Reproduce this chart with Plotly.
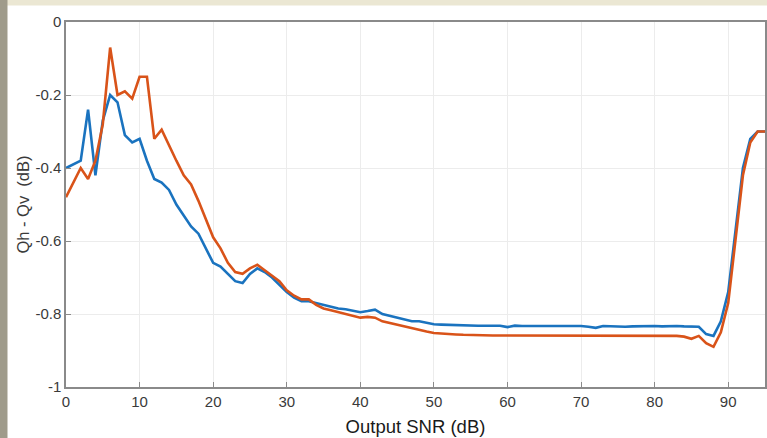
import plotly.graph_objects as go

snr = list(range(0, 96))

qdiff_blue = [
    -0.40, -0.39, -0.38, -0.24, -0.42, -0.27, -0.20, -0.22, -0.31, -0.33,
    -0.32, -0.38, -0.43, -0.44, -0.46, -0.50, -0.53, -0.56, -0.58, -0.62,
    -0.66, -0.67, -0.69, -0.71, -0.715, -0.69, -0.675, -0.685, -0.70, -0.72,
    -0.74, -0.755, -0.765, -0.765, -0.77, -0.775, -0.78, -0.785, -0.787, -0.79,
    -0.795, -0.792, -0.788, -0.80, -0.805, -0.81, -0.815, -0.82, -0.82, -0.825,
    -0.828, -0.829, -0.83, -0.83, -0.83, -0.831, -0.832, -0.832, -0.833, -0.832,
    -0.836, -0.832, -0.833, -0.833, -0.833, -0.832, -0.833, -0.832, -0.831, -0.832,
    -0.833, -0.835, -0.838, -0.833, -0.834, -0.834, -0.835, -0.834, -0.833, -0.833,
    -0.833, -0.834, -0.833, -0.833, -0.834, -0.834, -0.835, -0.855, -0.86, -0.82,
    -0.74, -0.57, -0.40, -0.32, -0.30, -0.30,
]

qdiff_orange = [
    -0.48, -0.44, -0.40, -0.43, -0.38, -0.28, -0.07, -0.20, -0.19, -0.21,
    -0.15, -0.15, -0.32, -0.295, -0.34, -0.38, -0.42, -0.445, -0.49, -0.54,
    -0.59, -0.62, -0.66, -0.685, -0.69, -0.675, -0.665, -0.68, -0.695, -0.71,
    -0.735, -0.75, -0.76, -0.76, -0.775, -0.785, -0.79, -0.795, -0.80, -0.805,
    -0.81, -0.808, -0.81, -0.82, -0.825, -0.83, -0.835, -0.84, -0.845, -0.848,
    -0.852, -0.854, -0.855, -0.856, -0.857, -0.858, -0.858, -0.858, -0.859, -0.859,
    -0.859, -0.859, -0.86, -0.86, -0.86, -0.86, -0.86, -0.86, -0.86, -0.86,
    -0.86, -0.861, -0.861, -0.861, -0.86, -0.86, -0.86, -0.86, -0.86, -0.86,
    -0.86, -0.86, -0.86, -0.86, -0.862, -0.868, -0.86, -0.88, -0.89, -0.85,
    -0.77, -0.60, -0.42, -0.33, -0.30, -0.30,
]

x_ticks = [0, 10, 20, 30, 40, 50, 60, 70, 80, 90]
y_ticks = [0, -0.2, -0.4, -0.6, -0.8, -1]
y_tick_text = ["0", "-0.2", "-0.4", "-0.6", "-0.8", "-1"]

fig = go.Figure()
fig.add_trace(go.Scatter(x=snr, y=qdiff_blue, mode="lines",
                         line=dict(color="#1a73bf", width=2.6), showlegend=False))
fig.add_trace(go.Scatter(x=snr, y=qdiff_orange, mode="lines",
                         line=dict(color="#d95319", width=2.6), showlegend=False))

W, H = 767, 438
L, R, T, B = 66, 2, 22, 51
pw, ph = W - L - R, H - T - B

def px2paper_x(p):
    return (p - L) / pw

def py2paper_y(p):
    return 1 - (p - T) / ph

shapes = [
    dict(type="rect", xref="paper", yref="paper",
         x0=px2paper_x(0), x1=px2paper_x(W), y0=py2paper_y(0), y1=py2paper_y(5.5),
         fillcolor="#ebe7d3", line=dict(width=0), layer="below"),
    dict(type="rect", xref="paper", yref="paper",
         x0=px2paper_x(0), x1=px2paper_x(7.5), y0=py2paper_y(H), y1=py2paper_y(0),
         fillcolor="#9f9b8b", line=dict(width=0), layer="below"),
]

axis_font = dict(family="Liberation Sans, Arial, sans-serif", size=15, color="#3a3a3a")

fig.update_layout(
    width=W, height=H,
    margin=dict(l=L, r=R, t=T, b=B, autoexpand=False),
    paper_bgcolor="white", plot_bgcolor="white",
    shapes=shapes,
    xaxis=dict(range=[0, 95], tickvals=x_ticks, ticks="inside", ticklen=5,
               tickcolor="#8a8a8a", linecolor="#8a8a8a", linewidth=1.5, mirror=True,
               showgrid=True, gridcolor="#ececec", zeroline=False, automargin=False,
               tickfont=axis_font,
               title=dict(text="Output SNR (dB)", standoff=11,
                          font=dict(family="Liberation Sans, Arial, sans-serif", size=18.5, color="#1a1a1a"))),
    yaxis=dict(range=[-1, 0], tickvals=y_ticks, ticktext=y_tick_text, ticks="inside", ticklen=5,
               tickcolor="#8a8a8a", linecolor="#8a8a8a", linewidth=1.5, mirror=True,
               showgrid=True, gridcolor="#ececec", zeroline=False, automargin=False,
               tickfont=axis_font,
               title=dict(text="Qh - Qv  (dB)", standoff=2,
                          font=dict(family="Liberation Sans, Arial, sans-serif", size=16.5, color="#3a3a3a"))),
)

fig.write_html("out.html",
               config={"displayModeBar": False},
               post_script="document.body.style.margin='0';document.body.style.overflow='hidden';")
